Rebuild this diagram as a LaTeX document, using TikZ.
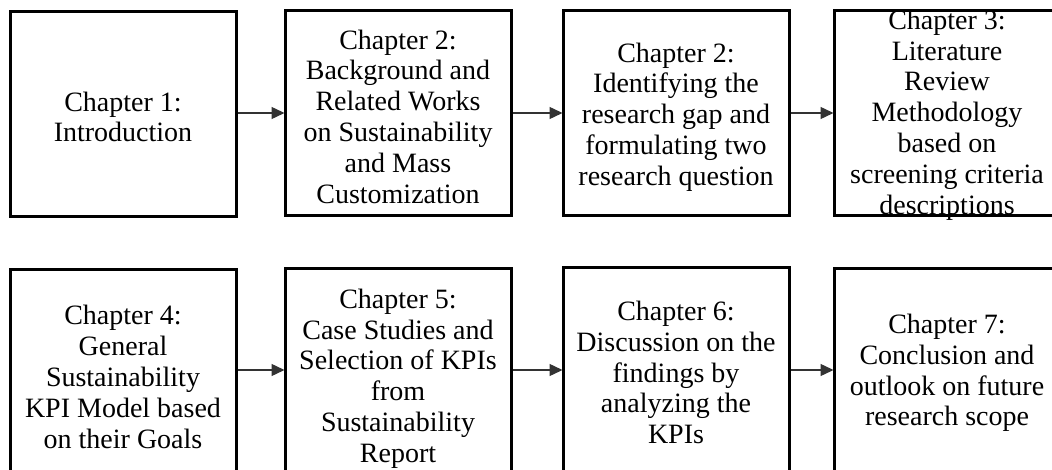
\documentclass[tikz,border=0pt]{standalone}
\usepackage{fontspec}
\setmainfont{Liberation Serif}
\usetikzlibrary{arrows.meta}
\begin{document}
\begin{tikzpicture}[x=1pt,y=-1pt,
  chbox/.style={draw=black,line width=3pt,minimum width=226pt,minimum height=205pt,inner sep=0pt},
  chtext/.style={align=center,inner sep=0pt,font=\fontsize{28}{30.8}\selectfont},
  flow/.style={draw=black!80,line width=1.4pt,-{Triangle[length=13pt,width=12pt]},shorten >=-1pt}]
\useasboundingbox (0,0) rectangle (1052,470);
\clip (0,0) rectangle (1052,470);
% row 1
\node[chbox] (b1) at (123,114.5) {};
\node[chbox] (b2) at (398,113.5) {};
\node[chbox] (b3) at (676,113.5) {};
\node[chbox] (b4) at (947,113.5) {};
% row 2
\node[chbox] (b5) at (123,372) {};
\node[chbox] (b6) at (398,371) {};
\node[chbox] (b7) at (676,370) {};
\node[chbox] (b8) at (947,371) {};
% texts
\node[chtext] (t1) at (123,117) {Chapter 1:\\Introduction};
\node[chtext] (t2) at (398,116.5) {Chapter 2:\\Background and\\Related Works\\on Sustainability\\and Mass\\Customization};
\node[chtext] (t3) at (676,117) {Chapter 2:\\Identifying the\\research gap and\\formulating two\\research question};
\node[chtext] (t4) at (947,115) {Chapter 3:\\Literature\\Review\\Methodology\\based on\\screening criteria\\descriptions};
\node[chtext] (t5) at (123,377) {Chapter 4:\\General\\Sustainability\\KPI Model based\\on their Goals};
\node[chtext] (t6) at (398,378.5) {Chapter 5:\\Case Studies and\\Selection of KPIs\\from\\Sustainability\\Report};
\node[chtext] (t7) at (676,372.5) {Chapter 6:\\Discussion on the\\findings by\\analyzing the\\KPIs};
\node[chtext] (t8) at (947,373) {Chapter 7:\\Conclusion and\\outlook on future\\research scope};
% arrows
\draw[flow] (b1.east |- 0,113) -- (b2.west |- 0,113);
\draw[flow] (b2.east |- 0,113) -- (b3.west |- 0,113);
\draw[flow] (b3.east |- 0,113) -- (b4.west |- 0,113);
\draw[flow] (b5.east |- 0,370) -- (b6.west |- 0,370);
\draw[flow] (b6.east |- 0,370) -- (b7.west |- 0,370);
\draw[flow] (b7.east |- 0,370) -- (b8.west |- 0,370);
\end{tikzpicture}
\end{document}
